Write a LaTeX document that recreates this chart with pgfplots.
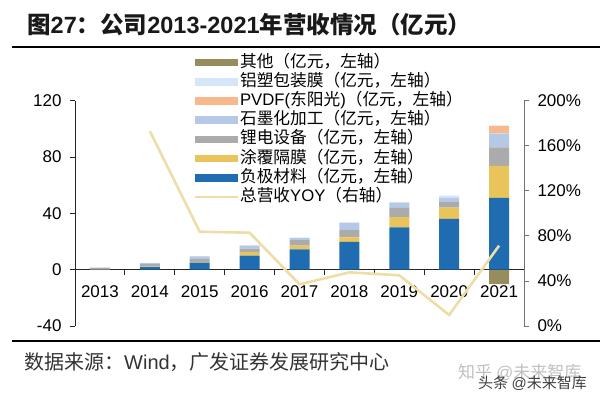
\documentclass[border=0pt]{standalone}
\usepackage{pgfplots}
\pgfplotsset{compat=1.18}
\usepackage{fontspec}
\setmainfont{Liberation Sans}
\newfontfamily\cjk{Noto Sans CJK SC}
\definecolor{cBlue}{HTML}{1F6CB0}
\definecolor{cYellow}{HTML}{E8C45A}
\definecolor{cGray}{HTML}{ABABAB}
\definecolor{cLBlue}{HTML}{B5C9E6}
\definecolor{cOrange}{HTML}{F9B88C}
\definecolor{cVLBlue}{HTML}{D5E7F7}
\definecolor{cOlive}{HTML}{978D5C}
\definecolor{cLine}{HTML}{EEDDA6}
\pgfplotsset{
 barlegend/.style={legend image code/.code={\fill[##1] (0pt,-3.8pt) rectangle (43pt,3.8pt);}},
 linelegend/.style={legend image code/.code={\draw[##1] (0pt,0pt) -- (43pt,0pt);}},
}
\begin{document}
\begin{tikzpicture}
\path[use as bounding box] (0pt,0pt) rectangle (600pt,401pt);
% negative segment (others)
\begin{axis}[
 at={(75pt,75pt)}, anchor=south west,
 scale only axis, width=449pt, height=225.3pt,
 xmin=-0.5, xmax=8.5, ymin=-40, ymax=120,
 hide axis, ybar, bar width=20pt, bar shift=0pt,
]
\addplot[fill=cOlive, draw=none] coordinates {(0,0) (1,0) (2,0) (3,0) (4,0) (5,0) (6,0) (7,0) (8,-10.3)};
\end{axis}
% stacked positive segments
\begin{axis}[
 at={(75pt,75pt)}, anchor=south west,
 scale only axis, width=449pt, height=225.3pt,
 xmin=-0.5, xmax=8.5, ymin=-40, ymax=120,
 ybar stacked, bar width=20pt,
 axis x line=middle, axis y line*=left,
 axis line style={-, color=black!85, line width=0.8pt},
 xtick={0.5,1.5,...,7.5}, xticklabels={},
 extra x ticks={0,1,2,3,4,5,6,7,8},
 extra x tick labels={2013,2014,2015,2016,2017,2018,2019,2020,2021},
 extra x tick style={major tick length=0pt},
 xticklabel style={yshift=-12pt},
 tick align=outside, major tick length=5pt,
 ytick={-40,0,40,80,120}, yticklabels={-40,0,40,80,120},
 yticklabel style={xshift=-5pt},
 tick label style={font=\fontsize{17}{20}\selectfont, color=black},
 tick style={black!85, line width=0.8pt},
 clip=false,
]
\addplot[fill=cBlue, draw=none] coordinates {(0,0) (1,1.9) (2,5.0) (3,10.0) (4,14.4) (5,19.7) (6,30.1) (7,36.0) (8,51.0)};
\addplot[fill=cYellow, draw=none] coordinates {(0,0) (1,0.4) (2,0.6) (3,2.5) (4,2.7) (5,3.3) (6,7.3) (7,8.1) (8,22.7)};
\addplot[fill=cGray, draw=none] coordinates {(0,1.4) (1,1.6) (2,1.9) (3,2.5) (4,3.8) (5,5.0) (6,6.4) (7,4.0) (8,13.1)};
\addplot[fill=cLBlue, draw=none] coordinates {(0,0) (1,0.8) (2,1.9) (3,2.1) (4,1.6) (5,5.2) (6,3.9) (7,3.1) (8,10.0)};
\addplot[fill=cOrange, draw=none] coordinates {(0,0) (1,0) (2,0) (3,0) (4,0) (5,0) (6,0) (7,0) (8,5.5)};
\addplot[fill=cVLBlue, draw=none] coordinates {(0,0) (1,0.2) (2,0.2) (3,0.3) (4,0.3) (5,0.3) (6,0.5) (7,1.4) (8,0.5)};
\end{axis}
% YOY line, right axis, legend
\begin{axis}[
 at={(75pt,75pt)}, anchor=south west,
 scale only axis, width=449pt, height=225.3pt,
 xmin=-0.5, xmax=8.5, ymin=0, ymax=200,
 axis x line=none, axis y line*=right,
 axis line style={-, color=black!55, line width=0.8pt},
 ytick={0,40,80,120,160,200},
 yticklabels={0\%,40\%,80\%,120\%,160\%,200\%},
 yticklabel style={xshift=5pt},
 tick align=outside, major tick length=5pt,
 tick label style={font=\fontsize{17}{20}\selectfont, color=black},
 tick style={black!55, line width=0.8pt},
 legend style={at={(0.265,1.207)}, anchor=north west, draw=none, fill=none,
   inner sep=0pt, outer sep=0pt, row sep=2.2pt,
   font=\fontsize{16.7}{18}\selectfont,
   nodes={inner sep=0.5pt, text height=12.5pt, text depth=3.5pt}},
 legend cell align=left,
 clip=false,
]
\addlegendimage{barlegend, fill=cOlive, draw=none}
\addlegendentry{{\cjk 其他（亿元，左轴）}}
\addlegendimage{barlegend, fill=cVLBlue, draw=none}
\addlegendentry{{\cjk 铝塑包装膜（亿元，左轴）}}
\addlegendimage{barlegend, fill=cOrange, draw=none}
\addlegendentry{PVDF({\cjk 东阳光}){\cjk （亿元，左轴）}}
\addlegendimage{barlegend, fill=cLBlue, draw=none}
\addlegendentry{{\cjk 石墨化加工（亿元，左轴）}}
\addlegendimage{barlegend, fill=cGray, draw=none}
\addlegendentry{{\cjk 锂电设备（亿元，左轴）}}
\addlegendimage{barlegend, fill=cYellow, draw=none}
\addlegendentry{{\cjk 涂覆隔膜（亿元，左轴）}}
\addlegendimage{barlegend, fill=cBlue, draw=none}
\addlegendentry{{\cjk 负极材料（亿元，左轴）}}
\addplot[color=cLine, line width=2.6pt, no markers, linelegend]
  coordinates {(1,173) (2,83.7) (3,82.8) (4,37) (5,47.6) (6,45) (7,9.8) (8,71.3)};
\addlegendentry{{\cjk 总营收}YOY{\cjk （右轴）}}
\end{axis}
% title, rules, source
\node[anchor=west, inner sep=0pt, font=\fontsize{23.5}{26}\selectfont\bfseries, color=black!90]
  at (27pt,376pt) {{\cjk 图}27{\cjk ：公司}2013-2021{\cjk 年营收情况（亿元）}};
\draw[line width=1.6pt, black] (12pt,354pt) -- (600pt,354pt);
\draw[line width=1.3pt, black] (12pt,60pt) -- (600pt,60pt);
\node[anchor=west, inner sep=0pt, font=\fontsize{20}{22}\selectfont, color=black!80]
  at (24pt,39pt) {{\cjk 数据来源：}Wind{\cjk ，广发证券发展研究中心}};
\node[anchor=west, inner sep=0pt, font=\fontsize{17}{18}\selectfont, color=black!25]
  at (458pt,28pt) {{\cjk 知乎 }@{\cjk 未来智库}};
\node[anchor=west, inner sep=0pt, font=\fontsize{15}{16}\selectfont, color=black!75]
  at (478pt,18pt) {{\cjk 头条 }@{\cjk 未来智库}};
\end{tikzpicture}
\end{document}
